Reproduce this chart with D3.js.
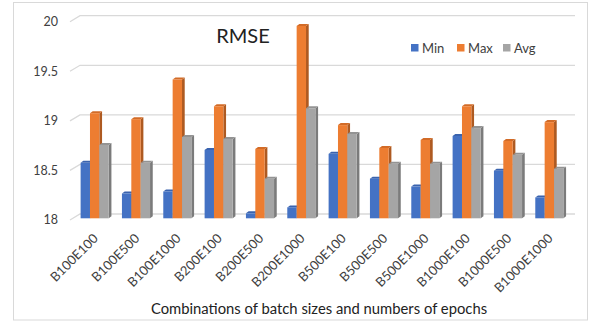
<!DOCTYPE html>
<html>
<head>
<meta charset="utf-8">
<script src="https://cdn.jsdelivr.net/npm/d3@7"></script>
<style>
  html, body { margin: 0; padding: 0; background: #fff; }
  svg { display: block; font-family: Lato, "Open Sans", sans-serif; }
</style>
</head>
<body>
<svg id="chart" width="589" height="325"></svg>
<script>
// RMSE per batch-size / epoch combination
const categories = ["B100E100", "B100E500", "B100E1000", "B200E100", "B200E500", "B200E1000",
                    "B500E100", "B500E500", "B500E1000", "B1000E100", "B1000E500", "B1000E1000"];
const seriesNames = ["Min", "Max", "Avg"];
const minValues = [18.56, 18.25, 18.27, 18.69, 18.05, 18.11, 18.65, 18.40, 18.32, 18.83, 18.48, 18.21];
const maxValues = [19.06, 19.00, 19.40, 19.13, 18.70, 19.94, 18.94, 18.71, 18.79, 19.13, 18.78, 18.97];
const avgValues = [18.74, 18.56, 18.82, 18.80, 18.40, 19.11, 18.85, 18.55, 18.55, 18.91, 18.64, 18.50];
const yTicks = [18, 18.5, 19, 19.5, 20];

const values = [minValues, maxValues, avgValues];
const palette = {
  front: ["#4472C4", "#ED7D31", "#A5A5A5"],
  side:  ["#2F528F", "#AE5A21", "#7B7B7B"],
  top:   ["#3A63AE", "#D26B27", "#939393"]
};

const svg = d3.select("#chart");

// chart frame
svg.append("rect")
  .attr("x", 13.5).attr("y", 2.5)
  .attr("width", 574).attr("height", 317.5)
  .attr("fill", "#fff").attr("stroke", "#D9D9D9").attr("stroke-width", 1);

// back wall scale and the plane the columns stand in
const wall = { x0: 80, x1: 575, dx: 10, dy: 6 };
const yBack = d3.scaleLinear().domain([18, 20]).range([214, 15.7]);
const yBar = d3.scaleLinear().domain([18, 20]).range([218.3, 20]);

const x = d3.scaleBand().domain(categories).range([74, 570])
  .paddingInner(0.32).paddingOuter(0.16);
const xs = d3.scaleBand().domain(seriesNames).range([0, x.bandwidth()]);

// gridlines on the back wall with a short floor edge
const grid = svg.append("g");
grid.selectAll("path").data(yTicks).join("path")
  .attr("d", v => `M${wall.x0 - wall.dx},${yBack(v) + wall.dy}L${wall.x0},${yBack(v)}H${wall.x1}`)
  .attr("fill", "none").attr("stroke", "#D9D9D9").attr("stroke-width", 1.3);

// value axis labels
svg.append("g").selectAll("text").data(yTicks).join("text")
  .attr("x", 58).attr("y", v => yBack(v) + wall.dy)
  .attr("dy", "0.35em")
  .attr("text-anchor", "end")
  .attr("font-size", 12.5).attr("fill", "#404040")
  .text(d3.format("~g"));

// 3D columns
const depth = { dx: 2.7, dy: 2 };
const base = yBar(18);
const groups = svg.append("g").selectAll("g").data(categories).join("g")
  .attr("transform", c => `translate(${x(c)},0)`);

seriesNames.forEach((s, si) => {
  groups.each(function (c, ci) {
    const v = values[si][ci];
    const g = d3.select(this);
    const x0 = xs(s), w = xs.bandwidth(), yt = yBar(v);
    g.append("path")
      .attr("d", `M${x0 + w},${yt}L${x0 + w + depth.dx},${yt - depth.dy}V${base - depth.dy}L${x0 + w},${base}Z`)
      .attr("fill", palette.side[si]);
    g.append("path")
      .attr("d", `M${x0},${yt}L${x0 + depth.dx},${yt - depth.dy}H${x0 + w + depth.dx}L${x0 + w},${yt}Z`)
      .attr("fill", palette.top[si]);
    g.append("rect")
      .attr("x", x0).attr("y", yt)
      .attr("width", w).attr("height", base - yt)
      .attr("fill", palette.front[si]);
  });
});

// category labels, rotated
svg.append("g").selectAll("text").data(categories).join("text")
  .attr("transform", c => `translate(${x(c) + x.bandwidth() / 2 + 1},${236}) rotate(-45)`)
  .attr("text-anchor", "end")
  .attr("dy", "0.35em")
  .attr("font-size", 13).attr("fill", "#404040")
  .text(c => c);

// title
svg.append("text")
  .attr("x", 243).attr("y", 43)
  .attr("text-anchor", "middle")
  .attr("font-size", 20).attr("fill", "#222")
  .text("RMSE");

// legend
const legend = svg.append("g").selectAll("g").data(seriesNames).join("g")
  .attr("transform", (s, i) => `translate(${411 + i * 46},0)`);
legend.append("rect")
  .attr("x", 0).attr("y", 44).attr("width", 7.5).attr("height", 7.5)
  .attr("fill", (s, i) => palette.front[i]);
legend.append("text")
  .attr("x", 11).attr("y", 48)
  .attr("dy", "0.35em")
  .attr("font-size", 13).attr("fill", "#404040")
  .text(s => s);

// category axis title
svg.append("text")
  .attr("x", 319).attr("y", 314)
  .attr("text-anchor", "middle")
  .attr("font-size", 14.8).attr("fill", "#222")
  .text("Combinations of batch sizes and numbers of epochs");
</script>
</body>
</html>
